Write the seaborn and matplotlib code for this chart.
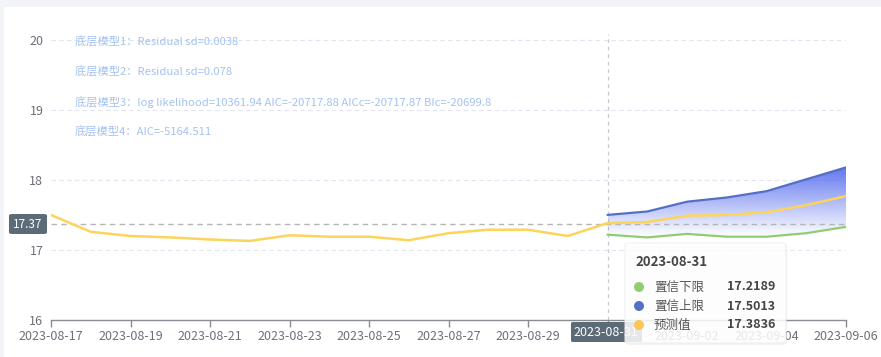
import numpy as np
import pandas as pd
import matplotlib
matplotlib.use("Agg")
import matplotlib.pyplot as plt
import matplotlib.dates as mdates
from matplotlib.patches import FancyBboxPatch, Rectangle
import seaborn as sns

sns.set_theme(style="white")
plt.rcParams['font.family'] = ['Noto Sans CJK SC', 'DejaVu Sans']

# ---------------- data ----------------
hist_dates = pd.date_range("2023-08-17", "2023-08-31", freq="D")
hist_values = [17.50, 17.26, 17.20, 17.18, 17.15, 17.13, 17.21, 17.19, 17.19,
               17.14, 17.24, 17.29, 17.29, 17.20, 17.3836]
fc_dates = pd.date_range("2023-08-31", "2023-09-06", freq="D")
fc_pred = [17.3836, 17.40, 17.49, 17.50, 17.54, 17.64, 17.77]
fc_upper = [17.5013, 17.55, 17.69, 17.75, 17.84, 18.01, 18.18]
fc_lower = [17.2189, 17.18, 17.23, 17.19, 17.19, 17.24, 17.33]
annotations = ["底层模型1：Residual sd=0.0038",
               "底层模型2：Residual sd=0.078",
               "底层模型3：log likelihood=10361.94 AIC=-20717.88 AICc=-20717.87 BIc=-20699.8",
               "底层模型4：AIC=-5164.511"]
tooltip_date = "2023-08-31"
tooltip_names = ["置信下限", "置信上限", "预测值"]
tooltip_values = ["17.2189", "17.5013", "17.3836"]
pointer_y = 17.37
yticks = [16, 17, 18, 19, 20]

C_PRED = "#fcd45c"
C_UP = "#5470c6"
C_LOW = "#91cc75"
TICK_C = "#6e7079"

pred_df = pd.DataFrame({"date": list(hist_dates) + list(fc_dates[1:]),
                        "value": hist_values + fc_pred[1:]})
up_df = pd.DataFrame({"date": fc_dates, "value": fc_upper})
low_df = pd.DataFrame({"date": fc_dates, "value": fc_lower})

W, H = 881, 357
fig = plt.figure(figsize=(W / 100, H / 100), dpi=100)
fig.patch.set_facecolor("#f3f4f8")
fig.patches.append(Rectangle((4 / W, 0), (W - 4) / W, 1 - 7 / H, transform=fig.transFigure,
                             facecolor="white", edgecolor="none", zorder=-5))

def fx(px):
    return px / W

def fy(py):
    return 1 - py / H

ax = fig.add_axes([fx(51), fy(320), fx(846) - fx(51), fy(40) - fy(320)])
ax.set_facecolor("none")
ax.set_zorder(1)

x0 = mdates.date2num(pd.Timestamp("2023-08-17"))
x1 = mdates.date2num(pd.Timestamp("2023-09-06"))

# gradient fill between upper and lower
fx_num = mdates.date2num(fc_dates)
poly = ax.fill_between(fx_num, fc_lower, fc_upper, color="none", lw=0)
ytop, ybot = max(fc_upper), min(fc_lower)
grad = np.zeros((100, 2, 4))
base = matplotlib.colors.to_rgb("#5a70ee")
grad[..., :3] = base
grad[..., 3] = np.linspace(0.95, 0.0, 100)[:, None]
im = ax.imshow(grad, extent=[fx_num[0], fx_num[-1], ybot, ytop], origin="upper",
               aspect="auto", zorder=2, interpolation="bilinear")
im.set_clip_path(poly.get_paths()[0], transform=ax.transData)

sns.lineplot(data=low_df, x="date", y="value", color=C_LOW, lw=1.6, ax=ax, zorder=3)
sns.lineplot(data=up_df, x="date", y="value", color=C_UP, lw=1.6, ax=ax, zorder=3)
sns.lineplot(data=pred_df, x="date", y="value", color=C_PRED, lw=1.8, ax=ax, zorder=4)

ax.set_xlim(x0, x1)
ax.set_ylim(16, 20)

# grid
for yv in yticks[1:]:
    ax.axhline(yv, color="#dfe6f2", lw=0.8, ls=(0, (4, 3)), zorder=1)
# pointer lines
ax.axhline(pointer_y, color="#b5b5b5", lw=1.0, ls=(0, (4, 3)), zorder=2.5)
ax.axvline(mdates.date2num(pd.Timestamp(tooltip_date)), ymin=-0.0, ymax=1.02,
           color="#c8c8d0", lw=0.9, ls=(0, (3, 3)), zorder=1, clip_on=False)

for s in ["top", "right", "left"]:
    ax.spines[s].set_visible(False)
ax.spines["bottom"].set_color("#8a8c94")
ax.spines["bottom"].set_linewidth(1.0)

tick_dates = pd.date_range("2023-08-17", "2023-09-06", freq="2D")
ax.set_xticks(mdates.date2num(tick_dates))
# the 08-31 tick label is covered by the axis-pointer label
ax.set_xticklabels(["" if d.strftime("%Y-%m-%d") == tooltip_date else d.strftime("%Y-%m-%d")
                    for d in tick_dates])
ax.set_yticks(yticks)
ax.set_yticklabels([str(v) for v in yticks])
ax.tick_params(axis="x", colors="#8a8c94", labelcolor=TICK_C, labelsize=9, length=5,
               width=1, pad=2, direction="out", bottom=True)
ax.tick_params(axis="y", colors=TICK_C, labelsize=9, length=0, pad=5.5)
ax.set_xlabel("")
ax.set_ylabel("")
leg = ax.get_legend()
if leg:
    leg.remove()

# annotations
for i, t in enumerate(annotations):
    fig.text(fx(75), fy(42 + 30 * i), t, color="#a4c2f2", fontsize=8.1,
             va="center", ha="left", zorder=5)

# y pointer label
fig.patches.append(FancyBboxPatch((fx(9), fy(234)), fx(38), fy(214) - fy(234),
                                  boxstyle="round,pad=0,rounding_size=0.004",
                                  transform=fig.transFigure, facecolor="#5c6b78",
                                  edgecolor="none", zorder=6))
fig.text(fx(28), fy(224), "17.37", color="white", fontsize=8.5, ha="center",
         va="center", zorder=7)

# x pointer label
fig.patches.append(FancyBboxPatch((fx(571), fy(342)), fx(71), fy(322) - fy(342),
                                  boxstyle="round,pad=0,rounding_size=0.003",
                                  transform=fig.transFigure, facecolor="#5c6b78",
                                  edgecolor="none", zorder=6))
fig.text(fx(606), fy(332), tooltip_date, color="white", fontsize=9, ha="center",
         va="center", zorder=7)

# tooltip
shadow = FancyBboxPatch((fx(626), fy(345)), fx(161), fy(243) - fy(343),
                        boxstyle="round,pad=0,rounding_size=0.006",
                        transform=fig.transFigure, facecolor="#000000", alpha=0.05,
                        edgecolor="none", zorder=7.5)
fig.patches.append(shadow)
tip = FancyBboxPatch((fx(625), fy(343)), fx(161), fy(243) - fy(343),
                     boxstyle="round,pad=0,rounding_size=0.006",
                     transform=fig.transFigure, facecolor="white", alpha=0.85,
                     edgecolor="#eeeeee", lw=0.8, zorder=8)
fig.patches.append(tip)
fig.text(fx(635), fy(262), tooltip_date, color="#464646", fontsize=9.5,
         fontweight="bold", ha="left", va="center", zorder=9)
dot_colors = [C_LOW, C_UP, "#fac858"]
for i, (n, v, c) in enumerate(zip(tooltip_names, tooltip_values, dot_colors)):
    yy = 287 + 19 * i
    fig.patches.append(matplotlib.patches.Ellipse((fx(639), fy(yy)), 10 / W, 10 / H,
                                                  transform=fig.transFigure,
                                                  facecolor=c, edgecolor="none", zorder=9))
    fig.text(fx(654), fy(yy), n, color="#555555", fontsize=9, ha="left",
             va="center", zorder=9)
    fig.text(fx(775), fy(yy), v, color="#464646", fontsize=9, fontweight="bold",
             ha="right", va="center", zorder=9)

fig.savefig("out.png", dpi=100, facecolor=fig.get_facecolor())
